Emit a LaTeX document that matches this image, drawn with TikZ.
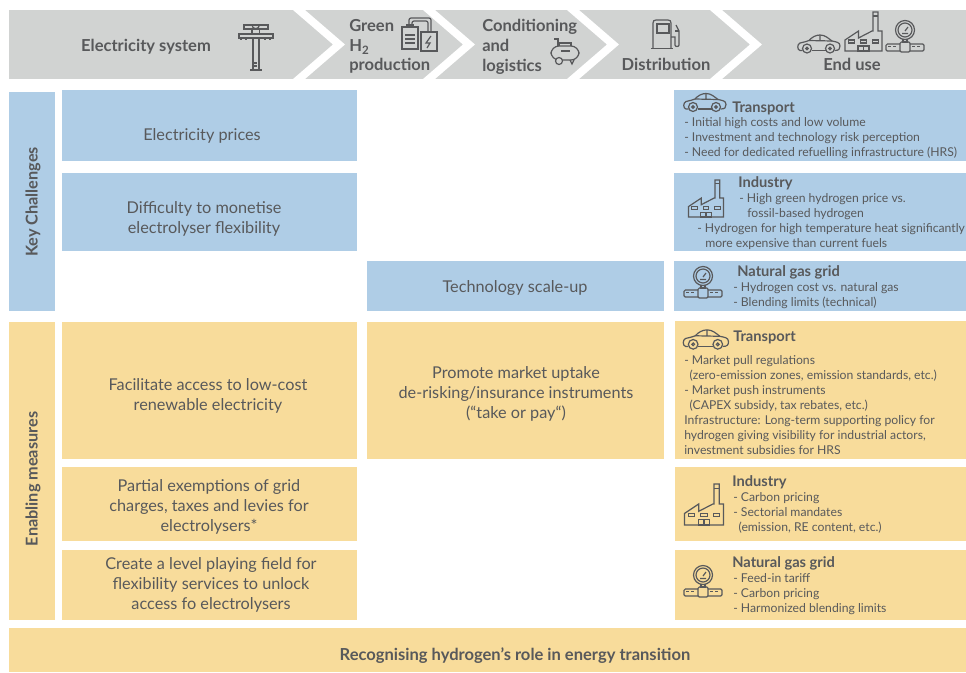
\documentclass[tikz,border=0pt]{standalone}
\usepackage{fontspec}
\setmainfont{Lato}
\definecolor{panelgrey}{RGB}{209,211,210}
\definecolor{panelblue}{RGB}{175,205,230}
\definecolor{panelyellow}{RGB}{248,220,155}
\definecolor{inkgrey}{RGB}{88,89,91}
\tikzset{
  headfont/.style={font=\fontsize{12.4pt}{14.8pt}\selectfont\bfseries,color=inkgrey,inner sep=0pt},
  bigfont/.style={font=\fontsize{12.2pt}{15pt}\selectfont,color=inkgrey,align=center,inner sep=0pt},
  smallfont/.style={font=\fontsize{9.15pt}{11.25pt}\selectfont,color=inkgrey,align=left,anchor=north west,inner sep=0pt},
  smallhead/.style={font=\fontsize{11pt}{11.25pt}\selectfont\bfseries,color=inkgrey,anchor=west,inner sep=0pt},
  sidefont/.style={font=\fontsize{12.2pt}{13pt}\selectfont\bfseries,color=inkgrey,rotate=90,inner sep=0pt},
  icon/.style={draw=inkgrey,line width=0.9pt},
  pics/car/.style={code={
    \draw [icon] (-16.5,6.5) -- (-19,6.5) .. controls (-22,6) and (-22,0) .. (-19,-1) .. controls (-15,-2) and (-12,-2.5) .. (-10,-3.5) .. controls (-7,-7) and (-3,-9) .. (1,-9) .. controls (6,-9) and (9,-6) .. (13,-3) .. controls (17,-2) and (21,-2) .. (21,2) .. controls (21,5) and (20,6.5) .. (15.5,6.5) ;
    \draw [icon] (-7.5,6.5) -- (6.5,6.5) ;
    \draw [icon] (-12,4.5) circle (4.5) (11,4.5) circle (4.5) ;
    \draw [icon] (-12,4.5) circle (1.3) (11,4.5) circle (1.3) ;
    \draw [icon] (-10,-3.5) -- (13,-3) (1,-9) -- (1,-3.2) ;
  }},
  pics/factory/.style={code={
    \draw [icon] (-18.5,19) -- (-18.5,8) -- (-5,-1) -- (-5,6) -- (8.5,-1) -- (9.5,-1) -- (9.5,-20) -- (14.5,-20) -- (14.5,-1) -- (18.5,-1) -- (18.5,19) -- cycle ;
    \draw [icon] (-15,8) rectangle (-9,11) (-3,8) rectangle (3,11) (9,8) rectangle (15,11) ;
    \draw [icon] (-5.5,19) rectangle (5.5,14) (0,14) -- (0,19) ;
    \draw [icon] (9.5,-16) -- (14.5,-16) ;
  }},
  pics/gauge/.style={code={
    \draw [icon] (0,-7) circle (9.5) (0,-7) circle (7) ;
    \draw [icon] (0,-6) -- (3,-10) (-3,-3.5) -- (3,-3.5) ;
    \draw [icon] (-2,2.5) rectangle (2,5) ;
    \draw [icon,rounded corners=1] (-5,5) rectangle (5,15) ;
    \draw [icon,rounded corners=1] (-5,7) -- (-19,7) -- (-19,14) -- (-5,14) ;
    \draw [icon,rounded corners=1] (5,7) -- (19,7) -- (19,14) -- (5,14) ;
    \draw [draw=inkgrey,dash pattern={on 2pt off 2pt},line width=0.4pt] (-17,9.5) -- (-7,9.5) (7,9.5) -- (17,9.5) ;
  }},
}
\begin{document}
\begin{tikzpicture}[x=0.75pt,y=-0.75pt]
\useasboundingbox (0,0) rectangle (966,672);

% header band and its chevrons
\fill [panelgrey] (9,10) rectangle (966,79);
\foreach \tipx in {293,423,567,710}
  \fill [white] (\tipx,10) -- (\tipx+12,10) -- (\tipx+52,44.5) -- (\tipx+12,79) -- (\tipx,79) -- (\tipx+40,44.5) -- cycle;

% Key challenges boxes
\fill [panelblue] (9,92) rectangle (55,311);
\fill [panelblue] (62,90) rectangle (357,161);
\fill [panelblue] (62,173) rectangle (357,251);
\fill [panelblue] (367,261) rectangle (664,311);
\fill [panelblue] (674,90) rectangle (966,161);
\fill [panelblue] (674,173) rectangle (966,251);
\fill [panelblue] (674,261) rectangle (966,311);

% Enabling measures boxes
\fill [panelyellow] (9,322) rectangle (55,620);
\fill [panelyellow] (62,322) rectangle (357,459);
\fill [panelyellow] (367,322) rectangle (664,459);
\fill [panelyellow] (62,467) rectangle (357,541);
\fill [panelyellow] (62,550) rectangle (357,620);
\fill [panelyellow] (675,321) rectangle (966,459);
\fill [panelyellow] (675,467) rectangle (966,541);
\fill [panelyellow] (675,550) rectangle (966,620);
\fill [panelyellow] (9,628) rectangle (966,672);

% Header text
\node (elecsystem) [headfont] at (146,47) {Electricity system};
\node (greenprod) [headfont,align=left,anchor=north west] at (349,19) {Green\\H\textsubscript{2}\\production};
\node (conditioning) [headfont,align=left,anchor=north west] at (482,19) {Conditioning\\and\\logistics};
\node (distribution) [headfont] at (666,64.5) {Distribution};
\node (enduse) [headfont] at (852,64.5) {End use};

% Pylon
\draw [icon] (244,25) rectangle (268,29);
\draw [icon] (239,34) rectangle (273,38);
\draw [icon] (252,25) arc (180:0:3.7);
\draw [icon] (252,29) -- (252,34) (259.5,29) -- (259.5,34);
\draw [icon] (253,38) -- (253,69) (259,38) -- (259,69);
\draw [icon] (250,70) -- (262,70);
\draw [icon] (254,63) -- (257,63) (254,66) -- (257,66);
\draw [icon] (241,38) -- (241,40) (246,38) -- (246,40) (265,38) -- (265,40) (270,38) -- (270,40);
% Electrolyser
\draw [icon] (402,27) rectangle (418,49);
\draw [icon] (407,27) -- (407,25) -- (413,25) -- (413,27);
\draw [icon,line width=1.2pt] (405,35) -- (415,35) (405,39) -- (415,39) (405,43) -- (415,43);
\draw [icon] (421,32) rectangle (437,51);
\draw [icon,rounded corners=1.5] (409,25) -- (409,18) -- (431,18) -- (431,32) (412,25) -- (412,21) -- (428,21) -- (428,32);
\draw [icon] (431,36) -- (426,43) -- (430,43) -- (427,48);
% Compressor
\draw [icon,rounded corners=6] (551,46) rectangle (579,60);
\draw [icon] (554,39) -- (558,39) -- (558,46);
\draw [icon] (559,46) -- (559,43) -- (571,43) -- (571,46);
\draw [icon] (561,51) -- (570,51);
\draw [icon,fill=panelgrey] (559,61) circle (3.5);
\draw [icon] (570,60) -- (572,64) -- (574,60);
% Fuel pump
\draw [icon] (653,48) -- (653,23) .. controls (653,21) and (654,20) .. (656,20) -- (668,20) .. controls (670,20) and (671,21) .. (671,23) -- (671,48);
\draw [icon] (657,24) rectangle (669,33);
\draw [icon] (651,48.5) -- (673,48.5);
\draw [icon] (671,37) -- (675,37) -- (675,45) .. controls (675,47) and (679,47) .. (679,45) -- (679,31) -- (676,25);
\draw [icon] (675,31) -- (679,31);
% End use icons
\pic at (819,44) {car};
\pic at (863.5,32) {factory};
\pic at (905,37) {gauge};

% Left column text
\node (keychall) [sidefont] at (33,202) {Key Challenges};
\node (enabling) [sidefont] at (33,479) {Enabling measures};
\node (elecprices) [bigfont] at (202,136) {Electricity prices};
\node (monetise) [bigfont] at (204,219) {Difficulty to monetise\\electrolyser flexibility};
\node (scaleup) [bigfont] at (515,288) {Technology scale-up};
\node (facilitate) [bigfont] at (208,396) {Facilitate access to low-cost\\renewable electricity};
\node (promote) [bigfont] at (516,394) {Promote market uptake\\de-risking/insurance instruments\\(“take or pay“)};
\node (exemptions) [bigfont] at (209,507) {Partial exemptions of grid\\charges, taxes and levies for\\electrolysers*};
\node (playfield) [bigfont] at (211,585) {Create a level playing field for\\flexibility services to unlock\\access fo electrolysers};
\node (recognising) [headfont] at (515,656) {Recognising hydrogen’s role in energy transition};

% Key challenges right column
\pic at (705,102.5) {car};
\node (transhead) [smallhead] at (732,108) {Transport};
\node (transtext) [smallfont] at (684,117) {- Initial high costs and low volume\\- Investment and technology risk perception\\- Need for dedicated refuelling infrastructure (HRS)};
\pic [scale=0.95] at (706,199) {factory};
\node (indhead) [smallhead] at (738,183) {Industry};
\node (indtexta) [smallfont] at (739,193) {- High green hydrogen price vs.\\\hspace*{6pt}fossil-based hydrogen};
\node (indtextb) [smallfont] at (697,223) {- Hydrogen for high temperature heat significantly\\\hspace*{6pt}more expensive than current fuels};
\pic at (703,283) {gauge};
\node (gashead) [smallhead] at (737,272) {Natural gas grid};
\node (gastext) [smallfont] at (733,282) {- Hydrogen cost vs. natural gas\\- Blending limits (technical)};

% Enabling measures right column
\pic [scale=1.07] at (706,339.5) {car};
\node (pushhead) [smallhead] at (733,337) {Transport};
\node (pushtext) [smallfont] at (684,355) {- Market pull regulations\\\hspace*{4pt}(zero-emission zones, emission standards, etc.)\\- Market push instruments\\\hspace*{4pt}(CAPEX subsidy, tax rebates, etc.)\\Infrastructure: Long-term supporting policy for\\hydrogen giving visibility for industrial actors,\\investment subsidies for HRS};
\pic [scale=1.05] at (704,505) {factory};
\node (pricehead) [smallhead] at (732,482) {Industry};
\node (pricetext) [smallfont] at (733,492) {- Carbon pricing\\- Sectorial mandates\\\hspace*{4pt}(emission, RE content, etc.)};
\pic at (703,582) {gauge};
\node (tariffhead) [smallhead] at (732,563) {Natural gas grid};
\node (tarifftext) [smallfont] at (733,573) {- Feed-in tariff\\- Carbon pricing\\- Harmonized blending limits};
\end{tikzpicture}
\end{document}
